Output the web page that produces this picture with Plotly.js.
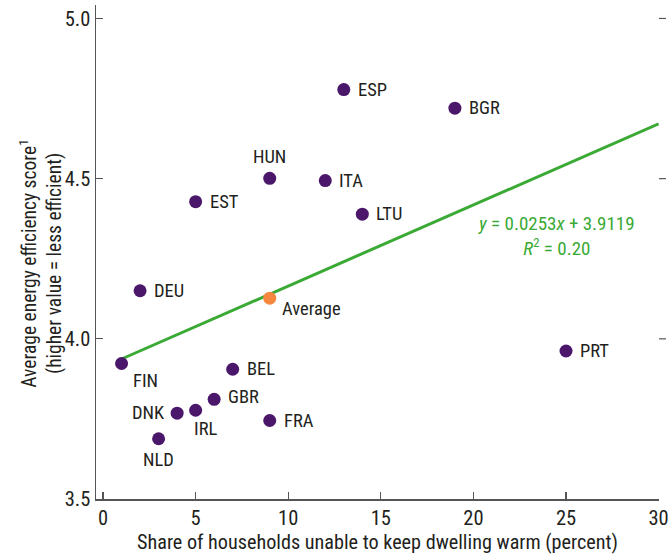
<!DOCTYPE html>
<html>
<head>
<meta charset="utf-8">
<script src="https://cdn.plot.ly/plotly-3.0.1.min.js"></script>
<style>
html,body{margin:0;padding:0;background:#fff;}
#chart{width:668px;height:558px;}
</style>
</head>
<body>
<div id="chart"></div>
<script>
// ---- data ----
const countries = ["ESP","BGR","HUN","ITA","EST","LTU","DEU","FIN","PRT","BEL","GBR","DNK","IRL","FRA","NLD"];
const coldShare = [13, 19, 9, 12, 5, 14, 2, 1, 25, 7, 6, 4, 5, 9, 3];
const effScore  = [4.778, 4.720, 4.501, 4.494, 4.428, 4.389, 4.150, 3.923, 3.962, 3.905, 3.811, 3.768, 3.777, 3.745, 3.688];
const avgLabel = ["Average"];
const avgShare = [9];
const avgScore = [4.127];
const trendX = [1, 30];
const trendY = [3.937, 4.671];
const eqText = "<i>y</i> = 0.0253<i>x</i> + 3.9119<br><i>R</i><sup>2</sup> = 0.20";
const xTicks = [0, 5, 10, 15, 20, 25, 30];
const yTicks = [3.5, 4.0, 4.5, 5.0];
const yTickText = ["3.5", "4.0", "4.5", "5.0"];
const rightTicks = [4.0, 4.5, 5.0];
const xTitle = 'Share of households unable to keep dwelling warm (percent)';
const yTitle = 'Average energy efficiency score<sup>1</sup><br>(higher value = less efficient)';

// ---- style ----
const FONT = '"Roboto Condensed", Roboto, sans-serif';
const PURPLE = '#4b176b', ORANGE = '#f5873e', GREEN = '#3aaa35';
const AXIS = '#555555', TXT = '#231f20';
const PLOT_W = 668 - 96 - 9;

// label placement (style): [xanchor, xshift, yshift]
const place = {
  ESP:['left',12,0], BGR:['left',12,0], HUN:['center',0,21], ITA:['left',12,0],
  EST:['left',12,0], LTU:['left',12,0], DEU:['left',12,0], FIN:['left',9,-18],
  PRT:['left',12,0], BEL:['left',12,0], GBR:['left',12,2], DNK:['right',-10,0],
  IRL:['left',-4,-19], FRA:['left',12,0], NLD:['center',0,-21], Average:['left',10,-11]
};

const traces = [
  {x: trendX, y: trendY, mode:'lines', line:{color:GREEN, width:3}, hoverinfo:'skip', showlegend:false},
  {x: coldShare, y: effScore, mode:'markers', marker:{color:PURPLE, size:13}, showlegend:false},
  {x: avgShare, y: avgScore, mode:'markers', marker:{color:ORANGE, size:13}, showlegend:false}
];

const annotations = [];
function addLabels(names, xs, ys){
  names.forEach((n,i)=>{
    const p = place[n];
    annotations.push({x: xs[i], y: ys[i], xref:'x', yref:'y', text:n, showarrow:false,
      xanchor:p[0], yanchor:'middle', xshift:p[1], yshift:p[2],
      font:{family:FONT, size:18.5, color:TXT}});
  });
}
addLabels(countries, coldShare, effScore);
addLabels(avgLabel, avgShare, avgScore);
annotations.push({x:24.5, y:4.32, xref:'x', yref:'y', text:eqText, showarrow:false,
  xanchor:'center', yanchor:'middle', align:'center',
  font:{family:FONT, size:19, color:GREEN}});
// y-axis title as rotated annotation
annotations.push({x:-0.098, y:0.478, xref:'paper', yref:'paper', text:yTitle, showarrow:false,
  textangle:-90, xanchor:'center', yanchor:'middle', align:'center',
  font:{family:FONT, size:19.5, color:TXT}});

// mirrored outside ticks on the right edge
const shapes = rightTicks.map(v => ({type:'line', xref:'paper', yref:'y',
  x0:1, x1:1 + 7/PLOT_W, y0:v, y1:v, line:{color:AXIS, width:1.2}}));

const layout = {
  width:668, height:558,
  margin:{l:96, r:9, t:5, b:59, pad:0},
  paper_bgcolor:'#fff', plot_bgcolor:'#fff',
  showlegend:false,
  font:{family:FONT, color:TXT},
  xaxis:{range:[-0.38, 30.02], tickvals:xTicks, ticktext:xTicks.map(String),
    ticks:'inside', ticklen:7, tickwidth:1.2, tickcolor:AXIS, ticklabeloverflow:'allow',
    showline:true, linecolor:AXIS, linewidth:1.5, showgrid:false, zeroline:false,
    tickfont:{family:FONT, size:20.5, color:TXT},
    title:{text:xTitle, standoff:3, font:{family:FONT, size:20.2, color:TXT}}},
  yaxis:{range:[3.5, 5.042], tickvals:yTicks, ticktext:yTickText,
    ticks:'inside', ticklen:7, tickwidth:1.2, tickcolor:AXIS,
    showline:true, linecolor:AXIS, linewidth:1.5, showgrid:false, zeroline:false,
    tickfont:{family:FONT, size:20.5, color:TXT}},
  shapes: shapes,
  annotations: annotations
};

Plotly.newPlot('chart', traces, layout, {staticPlot:true, displayModeBar:false});
</script>
</body>
</html>
